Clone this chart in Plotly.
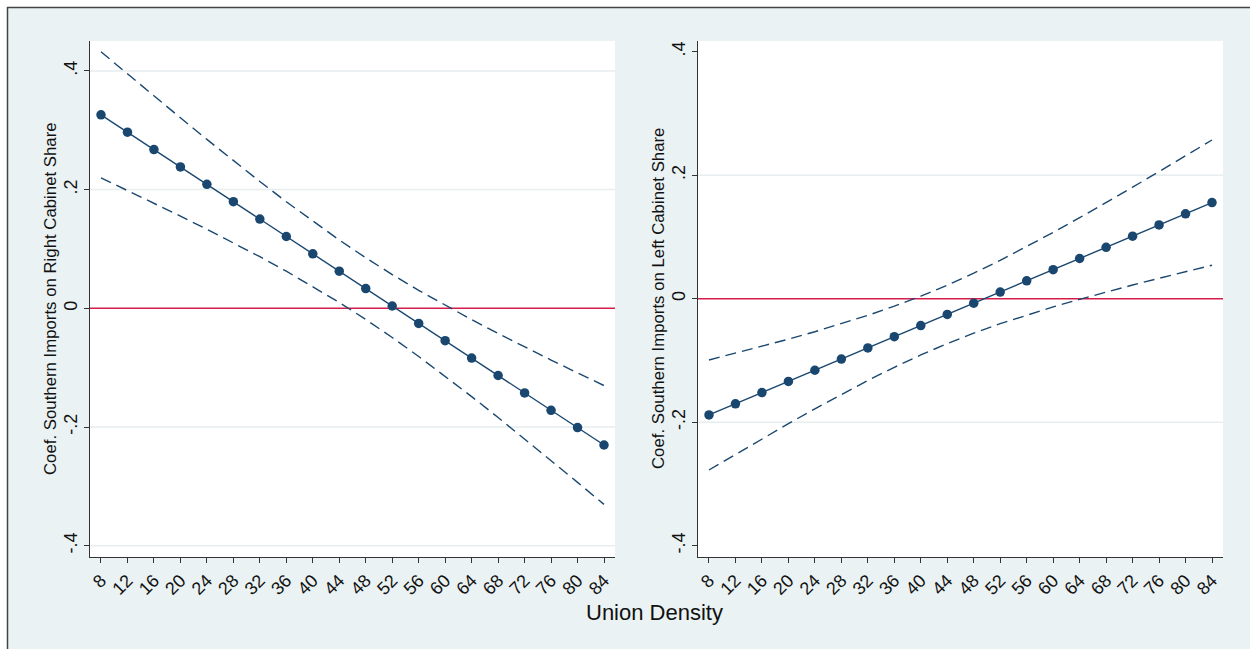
import plotly.graph_objects as go

# Union density grid (x values for both panels)
union_density = [8, 12, 16, 20, 24, 28, 32, 36, 40, 44, 48, 52, 56, 60, 64, 68, 72, 76, 80, 84]
x_tick_labels = [str(v) for v in union_density]

# Right-cabinet panel: marginal effect and 95% confidence bounds
right_coef = [0.326, 0.2967, 0.2674, 0.2382, 0.2089, 0.1796, 0.1503, 0.1210, 0.0918, 0.0625,
              0.0332, 0.0039, -0.0254, -0.0546, -0.0839, -0.1132, -0.1425, -0.1718, -0.2010, -0.2303]
right_upper = [0.4322, 0.3948, 0.3577, 0.3210, 0.2846, 0.2488, 0.2137, 0.1795, 0.1467, 0.1151,
               0.0852, 0.0569, 0.0303, 0.0051, -0.0191, -0.0424, -0.0650, -0.0871, -0.1088, -0.1302]
right_lower = [0.2198, 0.1986, 0.1771, 0.1554, 0.1332, 0.1104, 0.0869, 0.0625, 0.0369, 0.0099,
               -0.0188, -0.0491, -0.0811, -0.1143, -0.1487, -0.1840, -0.2200, -0.2565, -0.2932, -0.3304]

# Left-cabinet panel: marginal effect and 95% confidence bounds
left_coef = [-0.1883, -0.1702, -0.1521, -0.1340, -0.1159, -0.0978, -0.0797, -0.0616, -0.0435, -0.0254,
             -0.0073, 0.0108, 0.0289, 0.0470, 0.0651, 0.0832, 0.1013, 0.1194, 0.1375, 0.1556]
left_upper = [-0.0992, -0.0883, -0.0772, -0.0656, -0.0535, -0.0407, -0.0270, -0.0121, 0.0041, 0.0219,
              0.0413, 0.0621, 0.0842, 0.1073, 0.1312, 0.1556, 0.1805, 0.2058, 0.2313, 0.2570]
left_lower = [-0.2774, -0.2521, -0.2270, -0.2024, -0.1783, -0.1549, -0.1324, -0.1111, -0.0911, -0.0727,
              -0.0559, -0.0405, -0.0264, -0.0133, -0.0010, 0.0108, 0.0221, 0.0330, 0.0437, 0.0542]

y_tick_vals = [-0.4, -0.2, 0, 0.2, 0.4]
y_tick_labels = ["-.4", "-.2", "0", ".2", ".4"]

right_title = "Coef. Southern Imports on Right Cabinet Share"
left_title = "Coef. Southern Imports on Left Cabinet Share"
x_title = "Union Density"

W, H = 1250, 649
NAVY = "#1A476F"
RED = "#D41E4A"
BG = "#EAF2F3"
GRID = "#E6EEF0"
FONT = "Liberation Sans, Arial, sans-serif"


def px_x(p):
    return p / W


def px_y(p):
    return 1 - p / H


fig = go.Figure()

panels = [
    ("x", "y", right_coef, right_upper, right_lower),
    ("x2", "y2", left_coef, left_upper, left_lower),
]
for xa, ya, coef, up, lo in panels:
    for band in (up, lo):
        fig.add_trace(go.Scatter(
            x=union_density, y=band, xaxis=xa, yaxis=ya, mode="lines",
            line=dict(color=NAVY, width=1.4, dash="11px,6px"),
            showlegend=False, hoverinfo="skip"))
    fig.add_trace(go.Scatter(
        x=union_density, y=coef, xaxis=xa, yaxis=ya, mode="lines+markers",
        line=dict(color=NAVY, width=1.4),
        marker=dict(color=NAVY, size=9.5),
        showlegend=False))

x_dom_1 = [px_x(90), px_x(615)]
x_dom_2 = [px_x(698), px_x(1223)]
y_dom = [px_y(557), px_y(41)]

common_x = dict(
    tickmode="array", tickvals=union_density, ticktext=x_tick_labels,
    tickangle=-45, ticks="outside", ticklen=5, tickcolor="#333333",
    tickfont=dict(family=FONT, size=18, color="#111111"),
    showline=True, linecolor="#333333", linewidth=1,
    showgrid=False, zeroline=False, range=[6.34, 85.66])
common_y = dict(
    tickmode="array", tickvals=y_tick_vals, ticktext=y_tick_labels,
    tickangle=-90, ticks="outside", ticklen=5, tickcolor="#333333",
    tickfont=dict(family=FONT, size=18, color="#111111"),
    showline=True, linecolor="#333333", linewidth=1,
    showgrid=False, zeroline=False)

fig.update_layout(
    width=W, height=H,
    margin=dict(l=0, r=0, t=0, b=0),
    paper_bgcolor=BG, plot_bgcolor="white",
    font=dict(family=FONT, color="#111111"),
    xaxis=dict(domain=x_dom_1, anchor="y", **common_x),
    yaxis=dict(domain=y_dom, anchor="x", range=[-0.419, 0.4504], **common_y),
    xaxis2=dict(domain=x_dom_2, anchor="y2", **common_x),
    yaxis2=dict(domain=y_dom, anchor="x2", range=[-0.4183, 0.4173], **common_y),
)

shapes = []
# horizontal gridlines at labelled ticks
for v in y_tick_vals:
    if v == 0:
        continue
    shapes.append(dict(type="line", xref="x domain", yref="y", x0=0, x1=1, y0=v, y1=v,
                       line=dict(color=GRID, width=1.5), layer="below"))
for v in (-0.2, 0.2):
    shapes.append(dict(type="line", xref="x2 domain", yref="y2", x0=0, x1=1, y0=v, y1=v,
                       line=dict(color=GRID, width=1.5), layer="below"))
# reference line at zero effect
shapes.append(dict(type="line", xref="x domain", yref="y", x0=0, x1=1, y0=0, y1=0,
                   line=dict(color=RED, width=1.5), layer="below"))
shapes.append(dict(type="line", xref="x2 domain", yref="y2", x0=0, x1=1, y0=0, y1=0,
                   line=dict(color=RED, width=1.5), layer="below"))
# white margin outside the graph frame, and the frame edges
shapes.append(dict(type="rect", xref="paper", yref="paper", x0=0, x1=1, y0=px_y(7), y1=1,
                   fillcolor="white", line=dict(width=0), layer="above"))
shapes.append(dict(type="rect", xref="paper", yref="paper", x0=0, x1=px_x(7), y0=0, y1=1,
                   fillcolor="white", line=dict(width=0), layer="above"))
shapes.append(dict(type="line", xref="paper", yref="paper", x0=px_x(7), x1=1, y0=px_y(7.5), y1=px_y(7.5),
                   line=dict(color="#444444", width=1.5), layer="above"))
shapes.append(dict(type="line", xref="paper", yref="paper", x0=px_x(7.5), x1=px_x(7.5), y0=0, y1=px_y(7),
                   line=dict(color="#444444", width=1.5), layer="above"))
fig.update_layout(shapes=shapes)

fig.update_layout(annotations=[
    dict(text=right_title, xref="paper", yref="paper", x=px_x(50), y=px_y(299),
         textangle=-90, showarrow=False, xanchor="center", yanchor="middle",
         font=dict(family=FONT, size=16.8, color="#111111")),
    dict(text=left_title, xref="paper", yref="paper", x=px_x(658), y=px_y(299),
         textangle=-90, showarrow=False, xanchor="center", yanchor="middle",
         font=dict(family=FONT, size=16.8, color="#111111")),
    dict(text=x_title, xref="paper", yref="paper", x=px_x(654.5), y=px_y(612),
         showarrow=False, xanchor="center", yanchor="middle",
         font=dict(family=FONT, size=22, color="#111111")),
])

fig.write_html("out.html")
